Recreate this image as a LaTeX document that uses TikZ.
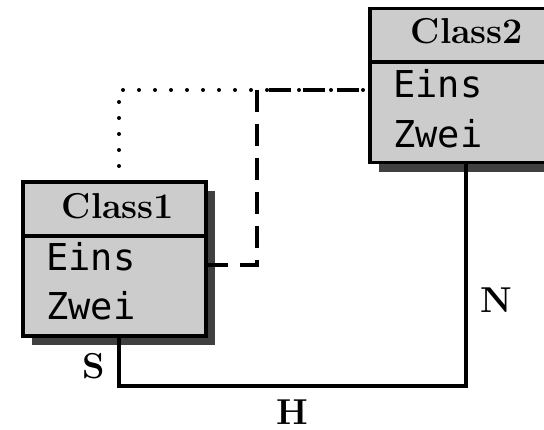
\documentclass[tikz,border=0pt]{standalone}
\usepackage{fontspec}
\newfontfamily\monofont{DejaVu Sans Mono}
\begin{document}
\begin{tikzpicture}[x=1pt,y=-1pt,
  classbox/.style={draw=black,line width=3.5pt,fill=boxgray,minimum width=183pt,minimum height=154pt,inner sep=0pt,outer sep=0pt},
  shadowbox/.style={fill=shadowgray,minimum width=183pt,minimum height=154pt,inner sep=0pt},
  title/.style={font=\fontsize{36}{40}\selectfont\bfseries,anchor=base,inner sep=0pt},
  attr/.style={font=\fontsize{37}{40}\selectfont\monofont,anchor=base west,inner sep=0pt},
  lab/.style={font=\fontsize{36}{40}\selectfont\bfseries,inner sep=0pt,anchor=base},
  conn/.style={line width=3.5pt},
  dashconn/.style={line width=3.5pt,dash pattern=on 22pt off 12pt},
  dotconn/.style={line width=4pt,line cap=round,dash pattern=on 0pt off 16pt}]
\definecolor{boxgray}{HTML}{CCCCCC}
\definecolor{shadowgray}{HTML}{404040}
\useasboundingbox (0,0) rectangle (544,429);
\clip (0,0) rectangle (544,429);
% shadows
\node[shadowbox] (s1) at (123.5,268) {};
\node[shadowbox] (s2) at (470.5,94.5) {};
% boxes
\node[classbox] (c1) at (114.5,259) {};
\node[classbox] (c2) at (461.5,85.5) {};
\draw[line width=3.5pt] (23,236) -- (206,236);
\draw[line width=3.5pt] (370,62) -- (553,62);
% texts
\node[title] (t1) at (118,218) {Class1};
\node[attr] (a1) at (46,270) {Eins};
\node[attr] (b1) at (46,319) {Zwei};
\node[title] (t2) at (467,43) {Class2};
\node[attr] (a2) at (393,97) {Eins};
\node[attr] (b2) at (393,147) {Zwei};
% connectors
\draw[dotconn] ([xshift=96pt]c1.north west) |- ([yshift=-4.5pt]c2.west);
\draw[dashconn] ([yshift=-6pt]c1.east) -- ++(51,0) |- ([yshift=-4.5pt]c2.west);
\draw[conn] ([xshift=96pt]c1.south west) -- ++(0,50) -| ([xshift=96pt]c2.south west);
% labels
\node[lab] (S) at (94,378) {S};
\node[lab] (N) at (496.5,312) {N};
\node[lab] (H) at (292,424) {H};
\end{tikzpicture}
\end{document}
